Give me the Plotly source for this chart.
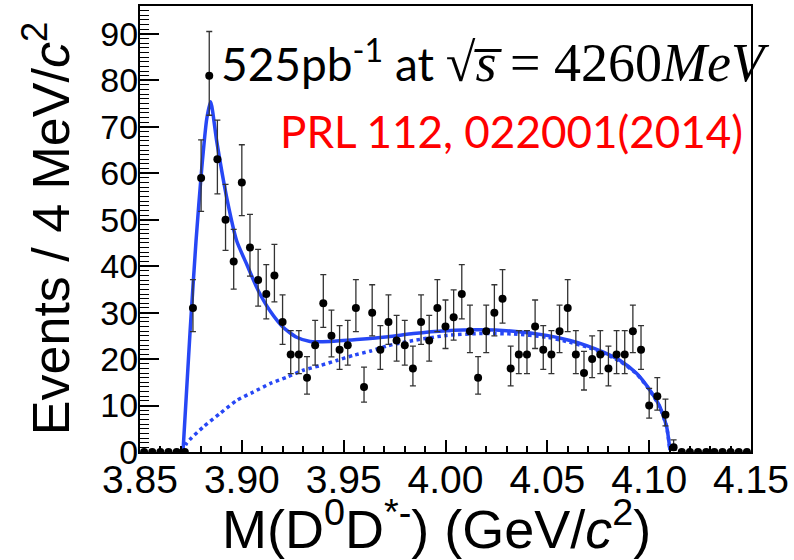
import numpy as np
import plotly.graph_objects as go

# Histogram definition (4 MeV bins from 3.85 to 4.15 GeV/c^2)
bin_low = 3.85
bin_width = 0.004

# Events per bin
counts = [0, 0, 0, 0, 0, 0,
          31, 59, 81, 63, 50, 41, 58, 44, 37, 34,
          38, 28, 21, 21, 16, 23, 32, 25, 22, 23,
          31, 14, 30, 22, 28, 24, 23, 18, 28, 24,
          31, 27, 29, 34, 26, 16, 26, 30, 33, 18,
          21, 21, 27, 22, 21, 26, 31, 21, 17, 20,
          21, 18, 21, 21, 26, 22, 10, 12, 8,
          1, 0, 0, 0, 0, 0, 0, 0, 0, 0]

# Total fit curve (solid)
fit_m = [3.8711, 3.8746, 3.8775, 3.8803, 3.8828, 3.8847, 3.8877, 3.8926, 3.8975,
         3.9024, 3.9081, 3.9138, 3.9204, 3.9269, 3.9335, 3.9433, 3.9564, 3.9719,
         3.9842, 4.0006, 4.0169, 4.0333, 4.0497, 4.0611, 4.0693, 4.0775, 4.0857,
         4.0939, 4.1004, 4.1053, 4.1086, 4.1102]
fit_v = [0, 26, 45.4, 61, 71.8, 75.4, 66.8, 54.7, 45.4,
         40.4, 34.7, 30.4, 26.8, 24.7, 23.8, 23.8, 24.2, 24.8,
         25.5, 26.1, 26.3, 26.0, 25.1, 24.0, 22.9, 21.5, 19.7,
         16.9, 13.3, 9.7, 5.4, 0.4]

# Background curve (dotted)
bkg_m = [3.8711, 3.8729, 3.8811, 3.8893, 3.8975, 3.9056, 3.9138, 3.9220, 3.9302,
         3.9384, 3.9466, 3.9547, 3.9629, 3.9719, 3.9842, 4.0006, 4.0169, 4.0333,
         4.0497, 4.0611, 4.0693, 4.0775, 4.0857, 4.0939, 4.1004, 4.1053, 4.1086,
         4.1102]
bkg_v = [0, 1.9, 5.4, 8.3, 11.1, 12.9, 14.7, 16.1, 17.6,
         18.6, 19.7, 20.8, 21.7, 22.9, 24.0, 25.1, 25.5, 25.4,
         24.7, 23.6, 22.6, 21.3, 19.5, 16.8, 13.2, 9.6, 5.3,
         0.4]

x_ticks = [3.85, 3.90, 3.95, 4.00, 4.05, 4.10, 4.15]
y_ticks = [0, 10, 20, 30, 40, 50, 60, 70, 80, 90]

centers = bin_low + bin_width * (np.arange(len(counts)) + 0.5)
n = np.array(counts, dtype=float)
err_hi = np.where(n > 0, 0.5 + np.sqrt(n + 0.25), 0.0)
err_lo = np.where(n > 0, -0.5 + np.sqrt(n + 0.25), 0.0)

BLUE = "#2747f5"
SANS = "Liberation Sans, Arial, Helvetica, sans-serif"

fig = go.Figure()
fig.add_trace(go.Scatter(x=bkg_m, y=bkg_v, mode="lines",
                         line=dict(color=BLUE, width=3.5, dash="dot", shape="spline", smoothing=0.6),
                         hoverinfo="skip", showlegend=False))
fig.add_trace(go.Scatter(x=fit_m, y=fit_v, mode="lines",
                         line=dict(color=BLUE, width=3.5, shape="spline", smoothing=0.6),
                         hoverinfo="skip", showlegend=False))
fig.add_trace(go.Scatter(x=centers, y=counts, mode="markers",
                         marker=dict(color="black", size=8),
                         error_y=dict(type="data", symmetric=False, array=err_hi, arrayminus=err_lo,
                                      color="#333333", thickness=1.3, width=3),
                         showlegend=False))

fig.update_layout(
    width=794, height=560,
    margin=dict(l=140, r=43, t=4, b=108),
    paper_bgcolor="white", plot_bgcolor="white",
    font=dict(family=SANS, color="black"),
    xaxis=dict(range=[3.85, 4.15], tickvals=x_ticks, tickformat=".2f",
               ticks="inside", ticklen=12, tickwidth=1.5, tickcolor="black",
               ticklabelstandoff=-8,
               showline=True, linewidth=2, linecolor="black", mirror=True,
               showgrid=False, zeroline=False,
               tickfont=dict(family=SANS, size=39, color="black"),
               minor=dict(dtick=0.01, tick0=3.85, ticks="inside", ticklen=6,
                          tickwidth=1.5, tickcolor="black", showgrid=False)),
    yaxis=dict(range=[0, 96], tickvals=y_ticks,
               ticks="inside", ticklen=19, tickwidth=1.5, tickcolor="black",
               ticklabelstandoff=-7,
               showline=True, linewidth=2, linecolor="black", mirror=True,
               showgrid=False, zeroline=False,
               tickfont=dict(family=SANS, size=34, color="black"),
               minor=dict(dtick=1, tick0=0, ticks="inside", ticklen=9,
                          tickwidth=1.2, tickcolor="black", showgrid=False)),
)

annotations = [
    dict(text="M(D<sup>0</sup>D<sup>*-</sup>) (GeV/<i>c</i><sup>2</sup>)",
         x=0.4845, y=-0.163, xref="paper", yref="paper",
         xanchor="center", yanchor="middle", showarrow=False,
         font=dict(family=SANS, size=54, color="black")),
    dict(text="Events / 4 MeV/<i>c</i><sup>2</sup>",
         x=-0.152, y=0.5, xref="paper", yref="paper", textangle=-90,
         xanchor="center", yanchor="middle", showarrow=False,
         font=dict(family=SANS, size=52, color="black")),
    dict(text="525pb<sup>-1</sup> at <span style=\"font-family:'Liberation Serif',serif;font-size:54px\">√<i>s̅</i> = 4260<i>MeV</i></span>",
         x=0.130, y=0.876, xref="paper", yref="paper",
         xanchor="left", yanchor="middle", showarrow=False,
         font=dict(family="Lato, sans-serif", size=46, color="black")),
    dict(text="PRL 112, 022001(2014)",
         x=0.990, y=0.719, xref="paper", yref="paper",
         xanchor="right", yanchor="middle", showarrow=False,
         font=dict(family="Lato, sans-serif", size=44, color="red")),
]
fig.update_layout(annotations=annotations)

fig.write_html("out.html")
